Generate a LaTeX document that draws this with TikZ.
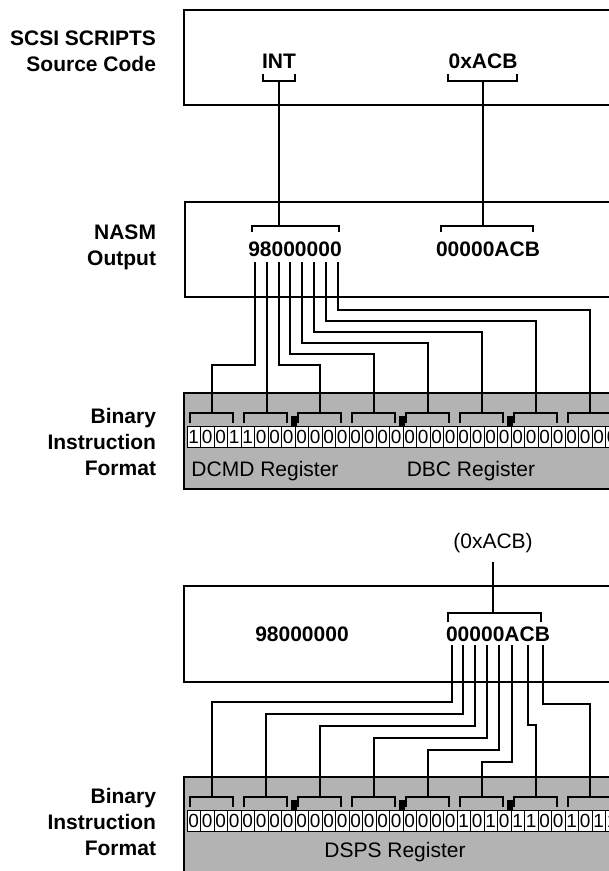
\documentclass[tikz,border=0pt]{standalone}
\usepackage{fontspec}
\setmainfont{Liberation Sans}
\definecolor{regGray}{RGB}{179,179,179}
\begin{document}
\begin{tikzpicture}[x=1pt,y=-1pt,line width=2pt,
  lbl/.style={font=\fontsize{21}{26}\selectfont\bfseries,align=right,anchor=north east,inner sep=0pt},
  code/.style={font=\fontsize{21}{25}\selectfont\bfseries,anchor=base,inner sep=0pt},
  regtext/.style={font=\fontsize{21}{25}\selectfont,anchor=base,inner sep=0pt},
  bittext/.style={font=\fontsize{19}{20}\selectfont,inner sep=0pt},
  srcbox/.style={draw,line width=2pt},
  regbox/.style={draw,fill=regGray,line width=2pt},
  cellbox/.style={draw,fill=white,line width=0.9pt},
  conn/.style={line width=2pt},
  brk/.style={line width=2pt}]
\useasboundingbox (0,0) rectangle (609,871);
\clip (0,0) rectangle (609,871);

% ---------- left labels
\node[lbl] (l1) at (157,29.5) {SCSI SCRIPTS\\Source Code};
\node[lbl] (l2) at (157,224) {NASM\\Output};
\node[lbl] (l3) at (157,407) {Binary\\Instruction\\Format};
\node[lbl] (l4) at (157,787) {Binary\\Instruction\\Format};

% ---------- boxes
\draw[srcbox] (184,10) rectangle (650,105);
\draw[srcbox] (185,202) rectangle (650,297);
\draw[regbox] (184,393) rectangle (650,489);
\draw[srcbox] (184,586) rectangle (650,682);
\draw[regbox] (184,777) rectangle (650,873);

% ---------- code texts
\node[code] (int) at (279,68) {INT};
\node[code] (acb) at (483,68) {0xACB};
\node[code] (n98) at (295,256.5) {98000000};
\node[code] (nacb) at (488,256) {00000ACB};
\node[regtext] (pacb) at (493,548.5) {(0xACB)};
\node[code] (b98) at (302,641.5) {98000000};
\node[code] (bacb) at (498,641) {00000ACB};

% ---------- small brackets
\draw[brk] (263,74) |- (295,81) -- (295,74);
\coordinate (intB) at (279,81);
\draw[brk] (448,74) |- (517,81) -- (517,74);
\coordinate (acbB) at (483,81);
\draw[brk] (252,232) |- (339,226) -- (339,232);
\coordinate (n98B) at (279,226);
\draw[brk] (441,232) |- (533,226) -- (533,232);
\coordinate (nacbB) at (483,226);
\draw[brk] (448,622) |- (541,613) -- (541,622);
\coordinate (bacbB) at (493,613);
\coordinate (pacbB) at (493,562);

\draw[conn] (intB) -- (n98B);
\draw[conn] (acbB) -- (nacbB);
\draw[conn] (pacbB) -- (bacbB);

% ---------- bit rows
\foreach \b [count=\i from 0] in {1,0,0,1,1,0,0,0,0,0,0,0,0,0,0,0,0,0,0,0,0,0,0,0,0,0,0,0,0,0,0,0} {
  \draw[cellbox] ({187+13.5*\i},426) rectangle ++(13.5,21);
  \node[bittext] (tb\i) at ({193.75+13.5*\i},436.5) {\b};
}
\foreach \b [count=\i from 0] in {0,0,0,0,0,0,0,0,0,0,0,0,0,0,0,0,0,0,0,0,1,0,1,0,1,1,0,0,1,0,1,1} {
  \draw[cellbox] ({187+13.5*\i},810) rectangle ++(13.5,21);
  \node[bittext] (bb\i) at ({193.75+13.5*\i},820.5) {\b};
}

% ---------- group brackets and byte marks
\foreach \g in {1,...,8} {
  \draw[brk] ({187+54*(\g-1)+3},423) |- ({187+54*(\g-1)+46},413) -- ({187+54*(\g-1)+46},423);
  \coordinate (tg\g) at ({187+54*(\g-1)+24.5},413);
  \draw[brk] ({187+54*(\g-1)+3},807) |- ({187+54*(\g-1)+46},797) -- ({187+54*(\g-1)+46},807);
  \coordinate (bg\g) at ({187+54*(\g-1)+24.5},797);
}
\foreach \k in {2,4,6} {
  \fill ({187+54*\k-4},416) rectangle ++(6,10);
  \fill ({187+54*\k-4},800) rectangle ++(6,10);
}

% ---------- register names
\node[regtext] (dcmd) at (265,476) {DCMD Register};
\node[regtext] (dbc) at (471,476) {DBC Register};
\node[regtext] (dsps) at (395,857) {DSPS Register};

% ---------- connectors, upper part
\foreach \i in {1,...,8} {
  \coordinate (tc\i) at ({254.7+11.9*(\i-1)},262);
}
\draw[conn] (tc2) -- (tc2 |- tg2);
\foreach \i/\lv in {1/365,3/365,4/354,5/343,6/332,7/321,8/310} {
  \draw[conn] (tc\i) -- ++(0,{\lv-262}) -| (tg\i);
}

% ---------- connectors, lower part
\coordinate (bc1) at (451.7,645);
\coordinate (bc2) at (463.4,645);
\coordinate (bc3) at (475.1,645);
\coordinate (bc4) at (486.9,645);
\coordinate (bc5) at (498.6,645);
\coordinate (bc6) at (512.2,645);
\coordinate (bc7) at (527.8,645);
\coordinate (bc8) at (543,645);
\foreach \i/\lv in {1/702,2/714,3/726,4/738,5/750,6/762,7/725,8/704} {
  \draw[conn] (bc\i) -- ++(0,{\lv-645}) -| (bg\i);
}
\end{tikzpicture}
\end{document}
